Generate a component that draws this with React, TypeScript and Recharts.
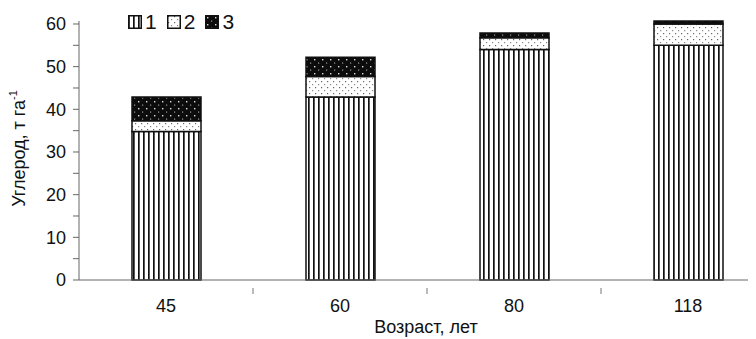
import { BarChart, Bar, XAxis, YAxis } from 'recharts';

// age of stand, years
const ages = ['45', '60', '80', '118'];
// carbon, t/ha, by fraction
const part1 = [34.8, 42.9, 54.0, 55.0];
const part2 = [2.5, 4.8, 2.8, 5.0];
const part3 = [5.6, 4.5, 1.1, 0.7];
const yTicks = [0, 5, 10, 15, 20, 25, 30, 35, 40, 45, 50, 55, 60];
const seriesNames = ['1', '2', '3'];

const data = ages.map((a, i) => ({ age: a, s1: part1[i], s2: part2[i], s3: part3[i] }));

const FONT = '"Liberation Sans", Arial, sans-serif';
const BAND = 174;

const fills = ['url(#pStripe)', 'url(#pDots)', 'url(#pDark)'];

const Patterns = () => (
  <defs>
    <pattern id="pStripe" width="5" height="10" patternUnits="userSpaceOnUse">
      <rect width="5" height="10" fill="#fff" />
      <rect x="0" width="1.7" height="10" fill="#111" />
    </pattern>
    <pattern id="pDots" width="6" height="6" patternUnits="userSpaceOnUse">
      <rect width="6" height="6" fill="#fff" />
      <rect x="1" y="1" width="1.2" height="1.2" fill="#666" />
      <rect x="4" y="4" width="1.2" height="1.2" fill="#888" />
    </pattern>
    <pattern id="pDark" width="8" height="7" patternUnits="userSpaceOnUse">
      <rect width="8" height="7" fill="#0c0c0c" />
      <rect x="2" y="2" width="1.4" height="1.4" fill="#ddd" />
      <rect x="6" y="5.5" width="1.2" height="1.2" fill="#999" />
    </pattern>
  </defs>
);

const LegendBox = () => (
  <div style={{ position: 'absolute', left: 120, top: 2, display: 'flex', alignItems: 'center', fontFamily: FONT, fontSize: 21, lineHeight: '24px', color: '#111' }}>
    {seriesNames.map((n, i) => (
      <div key={n} style={{ display: 'flex', alignItems: 'center', marginRight: 10 }}>
        <svg width="14" height="14" style={{ marginRight: 3 }}>
          <rect x="0.75" y="0.75" width="12.5" height="12.5" fill={fills[i]} stroke="#111" strokeWidth="1.5" />
        </svg>
        <span>{n}</span>
      </div>
    ))}
  </div>
);

const XTick = (props: any) => {
  const { x, y, payload, index } = props;
  return (
    <g>
      <text x={x} y={y} dy={24} textAnchor="middle" fontSize={18} fill="#111" fontFamily={FONT}>
        {payload.value}
      </text>
      {index < ages.length - 1 && (
        <line x1={x + BAND / 2} x2={x + BAND / 2} y1={y} y2={y + 6} stroke="#777" />
      )}
    </g>
  );
};

const XLabel = () => (
  <text x={418} y={325} textAnchor="middle" fontSize={18} fill="#111" fontFamily={FONT}>
    Возраст, лет
  </text>
);

const YLabel = (props: any) => {
  const vb = props.viewBox;
  const cx = 11;
  const cy = vb.y + vb.height / 2 - 2;
  return (
    <text x={cx} y={cy} transform={`rotate(-90 ${cx} ${cy})`} textAnchor="middle" dominantBaseline="central" fontSize={18} fill="#111" fontFamily={FONT}>
      Углерод, т га
      <tspan fontSize={11} dy={-6}>-1</tspan>
    </text>
  );
};

export default function App() {
  return (
    <div style={{ position: 'relative', width: 748, height: 331, overflow: 'hidden', background: '#fff' }}>
      <BarChart width={782} height={331} data={data} margin={{ top: 13, right: 15, left: 0, bottom: 0 }} barSize={69}>
        <Patterns />
        <XAxis
          dataKey="age"
          height={59}
          stroke="#666"
          tickLine={false}
          tick={<XTick />}
          label={<XLabel />}
        />
        <YAxis
          width={71}
          domain={[0, 60]}
          ticks={yTicks}
          interval={0}
          stroke="#666"
          tickSize={6}
          tickMargin={7}
          tickFormatter={(v: number) => (v % 10 === 0 ? String(v) : '')}
          tick={{ fontSize: 18, fill: '#111', fontFamily: FONT }}
          label={<YLabel />}
        />
        <Bar dataKey="s1" stackId="a" fill={fills[0]} stroke="#111" strokeWidth={1.5} isAnimationActive={false} />
        <Bar dataKey="s2" stackId="a" fill={fills[1]} stroke="#111" strokeWidth={1.5} isAnimationActive={false} />
        <Bar dataKey="s3" stackId="a" fill={fills[2]} stroke="#111" strokeWidth={1.5} isAnimationActive={false} />
      </BarChart>
      <LegendBox />
    </div>
  );
}
